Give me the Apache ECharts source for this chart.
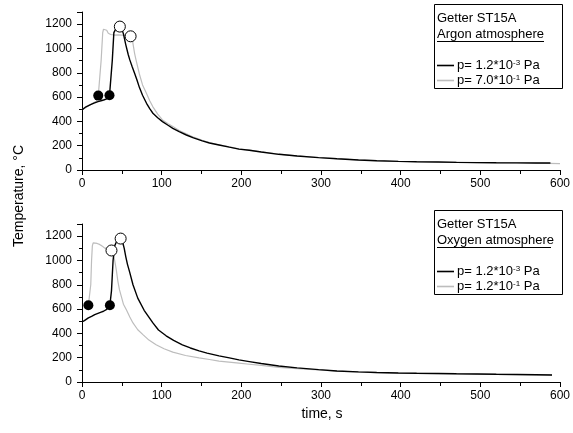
<!DOCTYPE html>
<html><head><meta charset="utf-8">
<script src="https://cdn.jsdelivr.net/npm/echarts@6/dist/echarts.min.js"></script>
<style>html,body{margin:0;padding:0;background:#fff}#c{width:573px;height:433px}</style>
</head><body><div id="c"></div>
<script>
// ---- data ----
const xMin = 0, xMax = 600, xStep = 100;
const yMin = 0, yMax = 1300, yStep = 200;

// Argon atmosphere, p = 1.2*10^-3 Pa (black)
const arLowT = [0,5,10,15,20,25,28,29,31,33,34.5,36,38,40,42,45,47.5,50,52,55,58,60,63,66,69,72,76,81,85,89,95,101,108,114,122,131,140,151,160,172,185,197,210,225,247,270,297,320,347,370,397,420,447,470,496,520,546,570,588];
const arLowV = [495,520,535,550,563,572,578,570,585,595,612,620,900,1130,1155,1165,1178,1160,1120,1030,950,906,850,796,740,680,615,549,505,467,430,398,368,343,315,288,265,239,222,206,188,172,162,148,129,115,102,92,82,76,71,68,66,63,61,60,59,58,57];
// Argon atmosphere, p = 7.0*10^-1 Pa (grey)
const arHighT = [0,5,10,15,18,20.4,22,24,26,27,29,31,33,36,41,45,50,55,58,61,63,64,66,68,72,76,81,85,89,95,101,108,114,122,131,140,151,160,172,185,197,210,225,247,270,297,320,347,370,397,420,447,470,496,520,546,570,600];
const arHighV = [495,515,535,555,565,610,620,900,1130,1158,1165,1150,1125,1115,1110,1112,1110,1105,1100,1098,1080,1040,960,900,790,700,630,570,520,460,412,380,357,325,297,270,244,226,208,190,174,163,150,130,116,103,93,83,77,72,69,66,64,61,60,58,56,52];
// Oxygen atmosphere, p = 1.2*10^-3 Pa (black)
const oxLowT = [0,3,5,8,12,16,20,24,27,29,31,33,35,37,39,41,43,46,48.5,51,53,55,57,60,64,70,78,89,96,105.6,115,126,136,147,157,172,185,197,210,225,247,270,297,320,347,370,397,420,447,470,496,520,546,570,590];
const oxLowV = [495,505,515,528,540,555,565,575,582,578,597,610,632,750,1000,1120,1150,1165,1180,1150,1100,1030,970,900,800,690,590,486,428,380,342,306,280,256,238,215,198,182,168,152,132,116,102,91,83,78,74,72,70,68,66,64,62,60,58];
// Oxygen atmosphere, p = 1.2*10^-1 Pa (grey)
const oxHighT = [2,5,8,10,11,12,13,14,16,19,22,25,28,32,35,37,39,41,43,45,47,49.5,52,55.7,60,64,70,76.5,84,93,103,114,130,147,160,172,197,210,225,247,270,297,320,347,370,397,420,447,470,496,520,546,570,590];
const oxHighV = [640,636,632,640,800,1000,1120,1145,1151,1140,1132,1120,1104,1095,1088,1082,1060,1000,925,830,760,700,640,595,535,486,430,390,345,307,274,246,218,198,185,172,155,146,136,120,109,99,90,82,77,73,71,69,67,65,63,61,59,57];

// markers
const arFilled = [[20.4,612],[34.5,615]];
const arOpen = [[47.5,1180],[61,1100]];
const oxFilled = [[8,632],[35,632]];
const oxOpen = [[37,1082],[48.5,1180]];

const legendLabels = {
  arLow: ['1.2', '-3'], arHigh: ['7.0', '-1'],
  oxLow: ['1.2', '-3'], oxHigh: ['1.2', '-1']
};

const zip = (a, b) => a.map((v, i) => [v, b[i]]);
const FONT = 'Liberation Sans, Arial, sans-serif';
const BLACK = '#000000', GREY = '#bdbdbd';

const chart = echarts.init(document.getElementById('c'), null, {renderer: 'canvas'});

function xAxisDef(gi) {
  return {
    type: 'value', gridIndex: gi, min: xMin, max: xMax, interval: xStep,
    axisLine: {onZero: false, lineStyle: {color: '#000', width: 1}},
    axisTick: {show: true, inside: false, length: 5, lineStyle: {color: '#000'}},
    minorTick: {show: true, splitNumber: 2, length: 4, lineStyle: {color: '#000'}},
    splitLine: {show: false},
    axisLabel: {fontFamily: FONT, fontSize: 12, color: '#000', margin: 8}
  };
}
function yAxisDef(gi) {
  return {
    type: 'value', gridIndex: gi, min: yMin, max: yMax, interval: yStep,
    axisLine: {show: true, lineStyle: {color: '#000', width: 1}},
    axisTick: {show: true, inside: false, length: 5, lineStyle: {color: '#000'}},
    minorTick: {show: true, splitNumber: 2, length: 3, lineStyle: {color: '#000'}},
    splitLine: {show: false},
    axisLabel: {fontFamily: FONT, fontSize: 12, color: '#000', margin: 10,
      formatter: v => (v % 200 === 0 && v <= 1200) ? String(v) : ''}
  };
}
function lineSeries(name, gi, t, v, color, w) {
  return {
    name, type: 'line', xAxisIndex: gi, yAxisIndex: gi, data: zip(t, v),
    showSymbol: false, symbol: 'none', smooth: false,
    lineStyle: {color, width: w}, itemStyle: {color}, z: color === BLACK ? 3 : 2
  };
}
function markerSeries(name, gi, pts, filled) {
  return {
    name, type: 'scatter', xAxisIndex: gi, yAxisIndex: gi, data: pts,
    symbol: 'circle', symbolSize: filled ? 10 : 11,
    itemStyle: filled ? {color: '#000', opacity: 1} : {color: '#fff', borderColor: '#000', borderWidth: 1, opacity: 1},
    z: 5, silent: true
  };
}
function legendDef(gi, top, names) {
  return {
    show: true, orient: 'vertical', left: 437, top: top, data: names, z: 20,
    icon: 'rect', itemWidth: 17, itemHeight: 1.6, itemGap: 2, padding: 0,
    selectedMode: false,
    formatter: n => 'p= ' + legendLabels[n][0] + '*10{s|' + legendLabels[n][1] + '} Pa',
    textStyle: {fontFamily: FONT, fontSize: 13, color: '#000', padding: [0, 0, 0, -2],
      rich: {s: {fontSize: 8, verticalAlign: 'top', fontFamily: FONT, color: '#000'}}}
  };
}
function box(top, h, title, sub, subW) {
  return [
    {type: 'rect', z: 1, shape: {x: 434.5, y: top + 0.5, width: 128, height: h}, style: {fill: '#fff', stroke: '#000', lineWidth: 1}},
    {type: 'text', z: 2, x: 437, y: top + 14, style: {text: title, font: '13px ' + FONT, fill: '#000', textVerticalAlign: 'middle'}},
    {type: 'text', z: 2, x: 437, y: top + 30, style: {text: sub, font: '13px ' + FONT, fill: '#000', textVerticalAlign: 'middle'}},
    {type: 'line', z: 2, shape: {x1: 437, y1: top + 37.5, x2: 437 + subW, y2: top + 37.5}, style: {stroke: '#000', lineWidth: 1}}
  ];
}

const option = {
  animation: false,
  backgroundColor: '#fff',
  grid: [
    {left: 82, right: 10, top: 12, height: 158},
    {left: 82, right: 10, top: 224, height: 158}
  ],
  xAxis: [xAxisDef(0), xAxisDef(1)],
  yAxis: [yAxisDef(0), yAxisDef(1)],
  legend: [legendDef(0, 59, ['arLow', 'arHigh']), legendDef(1, 265, ['oxLow', 'oxHigh'])],
  series: [
    lineSeries('arHigh', 0, arHighT, arHighV, GREY, 1.2),
    lineSeries('arLow', 0, arLowT, arLowV, BLACK, 1.4),
    markerSeries('arFilledM', 0, arFilled, true),
    markerSeries('arOpenM', 0, arOpen, false),
    lineSeries('oxHigh', 1, oxHighT, oxHighV, GREY, 1.2),
    lineSeries('oxLow', 1, oxLowT, oxLowV, BLACK, 1.4),
    markerSeries('oxFilledM', 1, oxFilled, true),
    markerSeries('oxOpenM', 1, oxOpen, false)
  ],
  graphic: [
    ...box(4, 84, 'Getter ST15A', 'Argon atmosphere', 107),
    ...box(210, 84, 'Getter ST15A', 'Oxygen atmosphere', 114),
    {type: 'text', x: 19, y: 196, rotation: Math.PI / 2,
      style: {text: 'Temperature, °C', font: '14px ' + FONT, fill: '#000', textAlign: 'center', textVerticalAlign: 'middle'}},
    {type: 'text', x: 322, y: 414,
      style: {text: 'time, s', font: '14px ' + FONT, fill: '#000', textAlign: 'center', textVerticalAlign: 'middle'}}
  ]
};
chart.setOption(option);
</script>
</body></html>
